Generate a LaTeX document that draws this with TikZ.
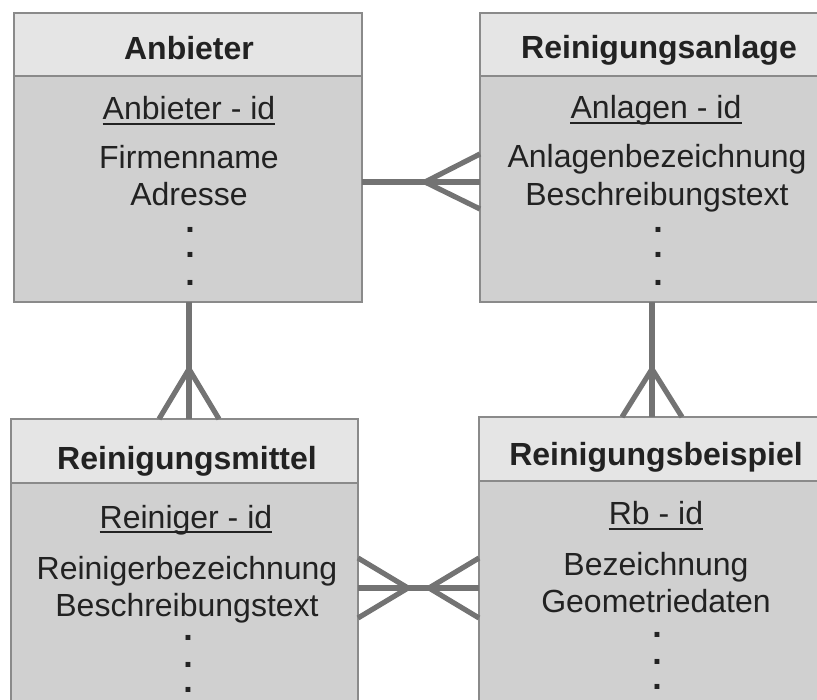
\documentclass[tikz,border=0pt]{standalone}
\usepackage{fontspec}
\setmainfont{Liberation Sans}
\definecolor{hdr}{HTML}{E5E5E5}
\definecolor{bdy}{HTML}{D0D0D0}
\definecolor{frm}{HTML}{8A8A8A}
\definecolor{con}{HTML}{737373}
\definecolor{txt}{HTML}{222222}
\begin{document}
\begin{tikzpicture}[x=1pt,y=-1pt,
  hdrbox/.style={draw=frm,line width=1.3pt,fill=hdr},
  bdybox/.style={draw=frm,line width=1.3pt,fill=bdy},
  title/.style={anchor=base,inner sep=0pt,text=txt,font=\fontsize{32}{36}\selectfont\bfseries},
  attr/.style={anchor=base,inner sep=0pt,text=txt,font=\fontsize{32}{36}\selectfont},
  dotmark/.style={anchor=base,inner sep=0pt,text=txt,font=\fontsize{34}{36}\selectfont\bfseries},
  uline/.style={draw=txt,line width=1.4pt},
  conn/.style={draw=con,line width=5.2pt}]
\useasboundingbox (0,0) rectangle (817,700);
\clip (0,0) rectangle (817,700);
% boxes
\path[hdrbox] (14,13) rectangle (362,76);
\path[bdybox] (14,76) rectangle (362,302);
\path[hdrbox] (480,13) rectangle (836,76);
\path[bdybox] (480,76) rectangle (836,302);
\path[hdrbox] (11,419) rectangle (358,483);
\path[bdybox] (11,483) rectangle (358,720);
\path[hdrbox] (479,417) rectangle (836,481);
\path[bdybox] (479,481) rectangle (836,720);
% Anbieter
\node[title] (t1) at (189,60) {Anbieter};
\node[attr] (id1) at (189,120) {Anbieter - id};
\draw[uline] ([yshift=-4pt]id1.base west) -- ([yshift=-4pt]id1.base east);
\node[attr] (a1) at (189,169) {Firmenname};
\node[attr] (b1) at (189,206) {Adresse};
\node[dotmark] (d11) at (190,233) {.};
\node[dotmark] (d12) at (190,258) {.};
\node[dotmark] (d13) at (190,286) {.};
% Reinigungsanlage
\node[title] (t2) at (659,59) {Reinigungsanlage};
\node[attr] (id2) at (656,119) {Anlagen - id};
\draw[uline] ([yshift=-4pt]id2.base west) -- ([yshift=-4pt]id2.base east);
\node[attr] (a2) at (657,168) {Anlagenbezeichnung};
\node[attr] (b2) at (657,206) {Beschreibungstext};
\node[dotmark] (d21) at (658,233) {.};
\node[dotmark] (d22) at (658,258) {.};
\node[dotmark] (d23) at (658,286) {.};
% Reinigungsmittel
\node[title] (t3) at (187,470) {Reinigungsmittel};
\node[attr] (id3) at (186,528) {Reiniger - id};
\draw[uline] ([yshift=-4pt]id3.base west) -- ([yshift=-4pt]id3.base east);
\node[attr] (a3) at (187,579) {Reinigerbezeichnung};
\node[attr] (b3) at (187,616) {Beschreibungstext};
\node[dotmark] (d31) at (188,640) {.};
\node[dotmark] (d32) at (188,667) {.};
\node[dotmark] (d33) at (188,692) {.};
% Reinigungsbeispiel
\node[title] (t4) at (656,466) {Reinigungsbeispiel};
\node[attr] (id4) at (656,525) {Rb - id};
\draw[uline] ([yshift=-4pt]id4.base west) -- ([yshift=-4pt]id4.base east);
\node[attr] (a4) at (656,575) {Bezeichnung};
\node[attr] (b4) at (656,612) {Geometriedaten};
\node[dotmark] (d41) at (657,637) {.};
\node[dotmark] (d42) at (657,664) {.};
\node[dotmark] (d43) at (657,689) {.};
% connector anchor points
\coordinate (p1a) at (362,182);
\coordinate (p1b) at (480,182);
\coordinate (p1t) at (425,182);
\coordinate (p1u) at (480,154);
\coordinate (p1d) at (480,209);
\draw[conn] (p1a) -- (p1b);
\draw[conn] (p1u) -- (p1t) -- (p1d);
\coordinate (p2a) at (189,302);
\coordinate (p2b) at (189,419);
\coordinate (p2t) at (189,369);
\coordinate (p2l) at (159,419);
\coordinate (p2r) at (219,419);
\draw[conn] (p2a) -- (p2b);
\draw[conn] (p2l) -- (p2t) -- (p2r);
\coordinate (p3a) at (652,302);
\coordinate (p3b) at (652,417);
\coordinate (p3t) at (652,369);
\coordinate (p3l) at (622,417);
\coordinate (p3r) at (682,417);
\draw[conn] (p3a) -- (p3b);
\draw[conn] (p3l) -- (p3t) -- (p3r);
\coordinate (p4a) at (358,588);
\coordinate (p4b) at (479,588);
\coordinate (p4lt) at (408,588);
\coordinate (p4lu) at (358,558);
\coordinate (p4ld) at (358,618);
\coordinate (p4rt) at (429,588);
\coordinate (p4ru) at (479,558);
\coordinate (p4rd) at (479,618);
\draw[conn] (p4a) -- (p4b);
\draw[conn] (p4lu) -- (p4lt) -- (p4ld);
\draw[conn] (p4ru) -- (p4rt) -- (p4rd);
\end{tikzpicture}
\end{document}
